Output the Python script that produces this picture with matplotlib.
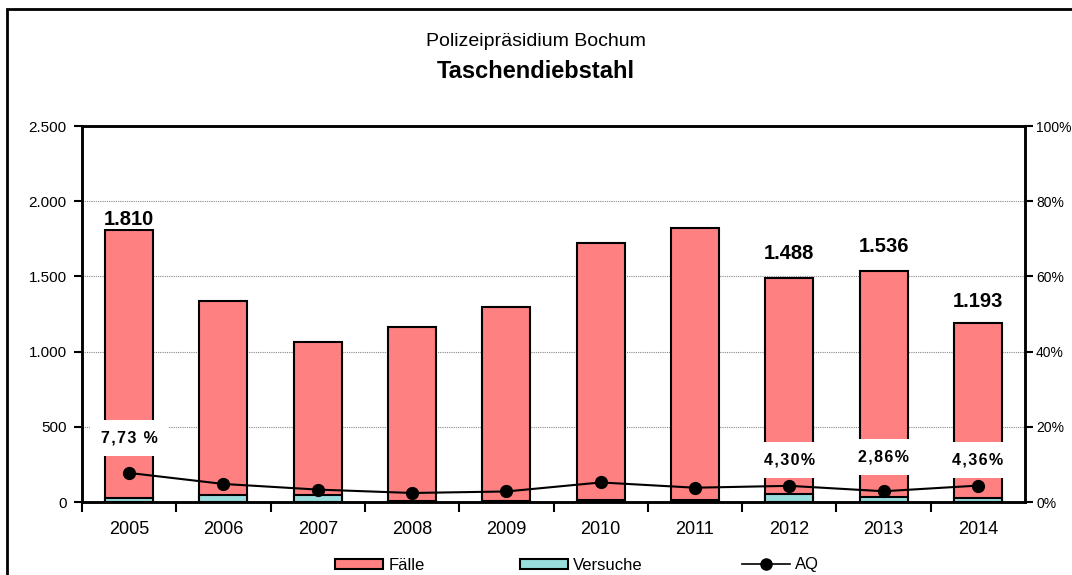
import matplotlib
matplotlib.use("Agg")
import matplotlib.pyplot as plt
from matplotlib.patches import Patch, Rectangle
from matplotlib.lines import Line2D
from matplotlib.ticker import FuncFormatter

plt.rcParams['font.family'] = ['Liberation Sans', 'DejaVu Sans']

years = ['2005', '2006', '2007', '2008', '2009', '2010', '2011', '2012', '2013', '2014']
faelle = [1810, 1336, 1064, 1164, 1297, 1722, 1822, 1488, 1536, 1193]
versuche = [25, 47, 47, 8, 8, 10, 10, 50, 35, 25]
aq = [7.73, 4.8, 3.3, 2.4, 2.8, 5.2, 3.8, 4.30, 2.86, 4.36]

bar_labels = {0: '1.810', 7: '1.488', 8: '1.536', 9: '1.193'}
aq_labels = {0: '7,73 %', 7: '4,30%', 8: '2,86%', 9: '4,36%'}

# layout only: label offsets (in axis units)
bar_label_offset = {0: 70, 7: 166, 8: 166, 9: 140}
aq_label_y = {0: 17.0, 7: 11.2, 8: 12.0, 9: 11.2}

W, H = 1072, 575
fig = plt.figure(figsize=(W / 100, H / 100), dpi=100)
fig.patches.append(Rectangle((7 / W, -0.05), 1.2, 1 - 9 / H + 0.05, transform=fig.transFigure,
                             fill=False, edgecolor='black', linewidth=2, zorder=0))

ax = fig.add_axes([82 / W, 1 - 502 / H, (1025 - 82) / W, (502 - 126) / H])
x = list(range(len(years)))
ax.bar(x, faelle, width=0.51, color='#FF8080', edgecolor='black', linewidth=1.5, zorder=2)
ax.bar(x, versuche, width=0.51, color='#99DDDD', edgecolor='black', linewidth=1.5, zorder=3)
ax.set_xlim(-0.5, len(years) - 0.5)
ax.set_ylim(0, 2500)
ax.set_yticks([0, 500, 1000, 1500, 2000, 2500])
ax.yaxis.set_major_formatter(FuncFormatter(lambda v, p: f"{int(v):,}".replace(',', '.')))
ax.set_xticks(x)
ax.set_xticklabels(years, fontsize=13)
ax.set_xticks([i + 0.5 for i in x[:-1]] + [-0.5], minor=True)
ax.tick_params(axis='x', which='major', length=0, pad=14)
ax.tick_params(axis='x', which='minor', length=7, direction='out', width=1.5)
ax.tick_params(axis='y', labelsize=11, length=6, direction='out', width=1.5, pad=5)
ax.grid(axis='y', linestyle=(0, (1, 1)), color='#888888', linewidth=0.8, zorder=0)
ax.set_axisbelow(True)
for s in ax.spines.values():
    s.set_linewidth(1.8)

for i, t in bar_labels.items():
    ax.text(i, faelle[i] + bar_label_offset[i], t, ha='center', va='center', fontsize=14.5,
            fontweight='bold', bbox=dict(facecolor='white', edgecolor='none', pad=0.5), zorder=5)

ax2 = ax.twinx()
ax2.set_ylim(0, 100)
ax2.set_yticks([0, 20, 40, 60, 80, 100])
ax2.yaxis.set_major_formatter(FuncFormatter(lambda v, p: f"{int(v)}%"))
ax2.tick_params(axis='y', labelsize=10, length=6, direction='out', width=1.5, pad=2)
ax2.plot(x, aq, color='black', linewidth=1.5, marker='o', markersize=8.5, zorder=6)
for s in ax2.spines.values():
    s.set_linewidth(1.8)


def spaced(s):
    return '\u200a'.join(s)


for i, t in aq_labels.items():
    ax2.text(i, aq_label_y[i], spaced(t), ha='center', va='center', fontsize=11.5, fontweight='bold',
             bbox=dict(facecolor='white', edgecolor='none', boxstyle='square,pad=0.65'), zorder=7)

fig.text(0.5, 1 - 42 / H, 'Polizeipräsidium Bochum', ha='center', va='center', fontsize=14)
fig.text(0.5, 1 - 72 / H, 'Taschendiebstahl', ha='center', va='center', fontsize=17, fontweight='bold')

entries = [
    (Patch(facecolor='#FF8080', edgecolor='black', linewidth=1.5), 'Fälle', 335),
    (Patch(facecolor='#99DDDD', edgecolor='black', linewidth=1.5), 'Versuche', 520),
    (Line2D([0], [0], color='black', linewidth=1.2, marker='o', markersize=8), 'AQ', 742),
]
for h, lab, xl in entries:
    fig.legend([h], [lab], loc='center left', bbox_to_anchor=(xl / W, 1 - 565 / H),
               frameon=False, fontsize=12, handlelength=2.9, handleheight=0.55,
               handletextpad=0.3, borderpad=0, borderaxespad=0)

fig.savefig('out.png', dpi=100)
